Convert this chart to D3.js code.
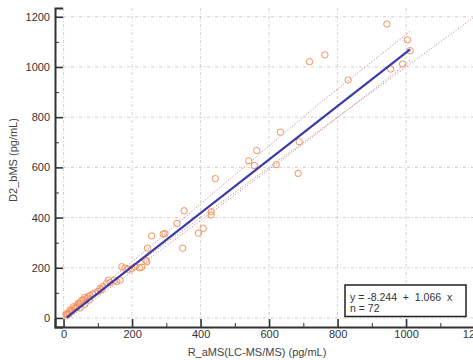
<!DOCTYPE html>
<html>
<head>
<meta charset="utf-8">
<script src="https://cdn.jsdelivr.net/npm/d3@7"></script>
<style>
  body { margin: 0; background: #fff; }
  svg { display: block; font-family: "Liberation Sans", Arial, sans-serif; }
  .tick text { fill: #333; font-size: 11px; }
</style>
</head>
<body>
<script>
const width = 473;
const height = 360;

// measured sample pairs (R_aMS, D2_bMS)
const xValues = [944, 1004, 1012, 990, 955, 718, 763, 831, 633, 564, 541, 557, 621, 688, 685,
  443, 352, 431, 431, 331, 291, 296, 257, 408, 394, 245, 348, 240, 243, 228, 222, 209, 199,
  189, 180, 170, 165, 155, 148, 136, 131, 126, 115, 107, 101, 92, 85, 77, 72, 68, 62, 58, 53,
  50, 45, 43, 40, 36, 32, 29, 25, 22, 19, 17, 14, 12, 9, 7, 48, 62, 75, 110];
const yValues = [1171, 1108, 1065, 1012, 992, 1021, 1048, 948, 740, 667, 626, 607, 611, 702, 576,
  555, 427, 423, 410, 377, 334, 336, 327, 357, 338, 278, 278, 230, 224, 202, 200, 204, 196,
  194, 198, 204, 151, 145, 150, 141, 151, 138, 125, 118, 106, 100, 95, 90, 85, 78, 82, 72, 70,
  60, 55, 58, 48, 42, 40, 45, 30, 28, 32, 20, 18, 14, 12, 16, 40, 55, 72, 112];

const intercept = -8.244;
const slope = 1.066;
const fitRange = [9, 1012];

// dotted band lines
const bandX = [9, 250, 500, 750, 1012];
const upperBand = [12, 280, 570, 858, 1142];
const lowerBand = [-8, 236, 490, 745, 1025];
const identityRange = [0, 1260];

const majorTicks = [0, 200, 400, 600, 800, 1000, 1200];
const minorTicks = [100, 300, 500, 700, 900, 1100];

const points = xValues.map((x, i) => ({ x: x, y: yValues[i] }));

const x = d3.scaleLinear().domain([-25, 1250]).range([55, 491.7]);
const y = d3.scaleLinear().domain([-36, 1235]).range([327, 8]);

const svg = d3.select("body").append("svg")
    .attr("width", width)
    .attr("height", height);

svg.append("defs").append("clipPath")
    .attr("id", "plot")
    .append("rect")
    .attr("x", 55).attr("y", 8)
    .attr("width", 440).attr("height", 319);

// grid
const grid = svg.append("g").attr("stroke", "#cfcfcf").attr("stroke-width", 1)
    .attr("stroke-dasharray", "3,2,1,2");
grid.selectAll(".gx").data(majorTicks).enter().append("line")
    .attr("x1", d => x(d)).attr("x2", d => x(d))
    .attr("y1", y(1235)).attr("y2", y(-36));
grid.selectAll(".gy").data(majorTicks).enter().append("line")
    .attr("x1", x(-25)).attr("x2", width)
    .attr("y1", d => y(d)).attr("y2", d => y(d));

const plot = svg.append("g").attr("clip-path", "url(#plot)");

const line = d3.line().x(d => x(d[0])).y(d => y(d[1]));

// identity and band lines
plot.append("path")
    .attr("d", line(identityRange.map(v => [v, v])))
    .attr("fill", "none").attr("stroke", "#b77a7a")
    .attr("stroke-width", 1).attr("stroke-dasharray", "1,2");
plot.append("path")
    .attr("d", line(bandX.map((v, i) => [v, upperBand[i]])))
    .attr("fill", "none").attr("stroke", "#b77a7a")
    .attr("stroke-width", 1).attr("stroke-dasharray", "1,2");
plot.append("path")
    .attr("d", line(bandX.map((v, i) => [v, lowerBand[i]])))
    .attr("fill", "none").attr("stroke", "#b77a7a")
    .attr("stroke-width", 1).attr("stroke-dasharray", "1,2");

// samples
plot.selectAll(".dot")
    .data(points)
    .enter().append("circle")
    .attr("class", "dot")
    .attr("r", 3.2)
    .attr("cx", d => x(d.x))
    .attr("cy", d => y(d.y))
    .attr("fill", "none")
    .attr("stroke", "#f5925c")
    .attr("stroke-width", 1);

// regression line
plot.append("path")
    .attr("d", line(fitRange.map(v => [v, intercept + slope * v])))
    .attr("fill", "none").attr("stroke", "#3b3bab")
    .attr("stroke-width", 2.2);

// axes
const xAxis = svg.append("g").attr("transform", `translate(0,${y(-36)})`)
    .call(d3.axisBottom(x).tickValues(majorTicks).tickSize(-8).tickPadding(3).tickFormat(d3.format("d")));
xAxis.selectAll(".tick").filter(d => d === 1200).select("line").remove();
const xMinor = svg.append("g").attr("transform", `translate(0,${y(-36)})`)
    .call(d3.axisBottom(x).tickValues(minorTicks).tickSize(-4).tickFormat(""));
xMinor.select(".domain").remove();

const yAxis = svg.append("g").attr("transform", `translate(${x(-25)},0)`)
    .call(d3.axisLeft(y).tickValues(majorTicks).tickSize(-8).tickPadding(5).tickFormat(d3.format("d")));
const yMinor = svg.append("g").attr("transform", `translate(${x(-25)},0)`)
    .call(d3.axisLeft(y).tickValues(minorTicks).tickSize(-4).tickFormat(""));
yMinor.select(".domain").remove();

svg.selectAll(".domain").attr("stroke", "#333").attr("stroke-width", 2);
svg.selectAll(".tick line").attr("stroke", "#333").attr("stroke-width", 1.6);
xMinor.selectAll(".tick line").attr("stroke-width", 1);
yMinor.selectAll(".tick line").attr("stroke-width", 1);

// stats box
const box = svg.append("g");
box.append("rect")
    .attr("x", 345).attr("y", 285)
    .attr("width", 121).attr("height", 31.5)
    .attr("fill", "#fff").attr("stroke", "#222").attr("stroke-width", 1.5);
box.append("text")
    .attr("x", 350).attr("y", 300.5)
    .attr("font-size", 10.5).attr("fill", "#333")
    .attr("xml:space", "preserve")
    .style("white-space", "pre")
    .text("y = -8.244  +  1.066  x");
box.append("text")
    .attr("x", 350).attr("y", 311.5)
    .attr("font-size", 10.5).attr("fill", "#333")
    .text("n = 72");

// axis titles
svg.append("text")
    .attr("x", 257).attr("y", 356)
    .attr("text-anchor", "middle")
    .attr("font-size", 11).attr("fill", "#444")
    .text("R_aMS(LC-MS/MS) (pg/mL)");
svg.append("text")
    .attr("transform", "translate(17,160) rotate(-90)")
    .attr("text-anchor", "middle")
    .attr("font-size", 11).attr("fill", "#444")
    .text("D2_bMS (pg/mL)");
</script>
</body>
</html>
